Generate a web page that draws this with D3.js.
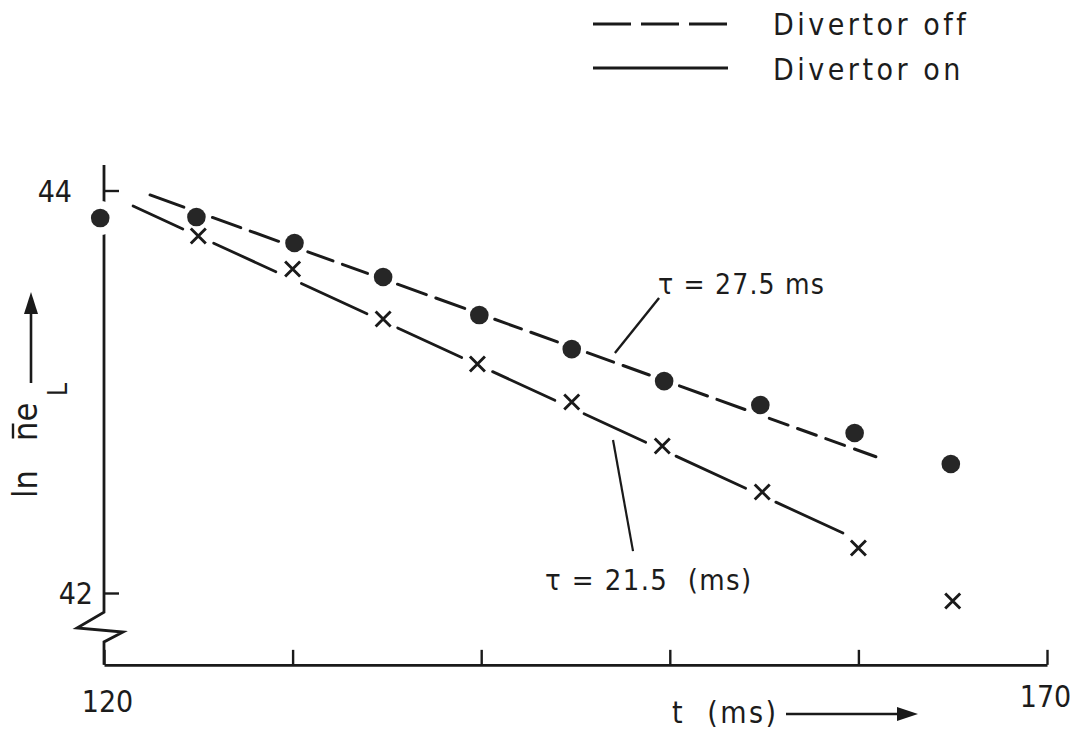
<!DOCTYPE html>
<html>
<head>
<meta charset="utf-8">
<script src="https://cdn.jsdelivr.net/npm/d3@7"></script>
<style>
  html, body { margin: 0; padding: 0; background: #fff; }
  svg { display: block; }
  text { font-family: 'DejaVu Sans Condensed', 'DejaVu Sans', sans-serif; font-stretch: condensed; fill: #1c1c1c; }
</style>
</head>
<body>
<svg id="chart" width="1076" height="731"></svg>
<script>
// Measured decay of line density: time (ms) and ln of line-averaged density
const tOff  = [119.8, 124.9, 130.1, 134.8, 139.9, 144.8, 149.7, 154.8, 159.8, 164.9];
const lnOff = [43.863, 43.868, 43.739, 43.570, 43.381, 43.212, 43.053, 42.934, 42.795, 42.641];
const tOn   = [125, 130, 134.8, 139.8, 144.8, 149.6, 154.9, 160, 165];
const lnOn  = [43.774, 43.610, 43.361, 43.138, 42.949, 42.730, 42.502, 42.224, 41.960];

// Straight-line fits (end points) for each case
const fitOffT = [122.44, 160.93];
const fitOffV = [43.978, 42.677];
const fitOnT  = [121.54, 159.18];
const fitOnV  = [43.923, 42.298];

// Axis ticks and labels
const xTicks = [120, 130, 140, 150, 160, 170];
const xTickLabels = ["120", "", "", "", "", "170"];
const yTicks = [44, 42];
const yTickLabels = ["44", "42"];

// Legend entries and annotations
const legendNames = ["Divertor off", "Divertor on"];
const tauLabels = ["\u03c4 = 27.5 ms", "\u03c4 = 21.5  (ms)"];

const INK = "#1a1a1a";
const svg = d3.select("#chart");

const x = d3.scaleLinear().domain([120, 170]).range([104, 1047]);
const y = d3.scaleLinear().domain([42, 44]).range([593, 190.5]);

const yTop = 44.127, yBase = 41.643;

// ---- x axis: ticks point inward, only end labels
const xAxis = d3.axisBottom(x)
  .tickValues(xTicks)
  .tickSize(-15)
  .tickSizeOuter(0)
  .tickPadding(0)
  .tickFormat((d, i) => xTickLabels[i]);
const gx = svg.append("g")
  .attr("transform", `translate(0,${y(yBase)})`)
  .call(xAxis);
gx.select(".domain").attr("stroke", INK).attr("stroke-width", 2.8);
gx.selectAll(".tick line").attr("stroke", INK).attr("stroke-width", 2.4);
gx.selectAll(".tick text")
  .attr("fill", INK)
  .attr("font-size", 30)
  .attr("dy", null)
  .attr("y", (d, i) => i === 0 ? 47 : 42)
  .attr("dx", (d, i) => i === 0 ? 3 : -2);

// ---- y axis with break (zig-zag) near the bottom
const yLinePts = [
  [0, yTop], [0, 41.905], [-27, 41.826], [19, 41.806], [0, 41.757], [0, yBase]
];
svg.append("path")
  .attr("d", d3.line().x(p => x(120) + p[0]).y(p => y(p[1]))(yLinePts))
  .attr("fill", "none").attr("stroke", INK).attr("stroke-width", 2.8)
  .attr("stroke-linejoin", "miter");

const yAxis = d3.axisLeft(y)
  .tickValues(yTicks)
  .tickSize(-15)
  .tickSizeOuter(0)
  .tickPadding(0)
  .tickFormat((d, i) => yTickLabels[i]);
const gy = svg.append("g")
  .attr("transform", `translate(${x(120)},0)`)
  .call(yAxis);
gy.select(".domain").remove();
gy.selectAll(".tick line").attr("stroke", INK).attr("stroke-width", 2.4);
gy.selectAll(".tick text")
  .attr("fill", INK)
  .attr("font-size", 30)
  .attr("dy", "0.36em")
  .attr("x", (d, i) => i === 0 ? -32 : -11);

// ---- fit lines, broken where they pass the markers
function pieces(p0, p1, markers, gapR, dash, gap) {
  const dx = p1[0] - p0[0], dy = p1[1] - p0[1];
  const L = Math.hypot(dx, dy), ux = dx / L, uy = dy / L;
  const cuts = [];
  markers.forEach(([mx, my]) => {
    const s = (mx - p0[0]) * ux + (my - p0[1]) * uy;
    const dist = Math.abs((mx - p0[0]) * uy - (my - p0[1]) * ux);
    if (dist < gapR) {
      const h = Math.sqrt(gapR * gapR - dist * dist);
      cuts.push([s - h, s + h]);
    }
  });
  cuts.sort((a, b) => a[0] - b[0]);
  const spans = [];
  let cur = 0;
  cuts.forEach(([a, b]) => {
    if (a > cur) spans.push([cur, Math.min(a, L)]);
    cur = Math.max(cur, b);
  });
  if (cur < L) spans.push([cur, L]);
  const out = [];
  spans.filter(([a, b]) => b - a > 2).forEach(([a, b]) => {
    const len = b - a;
    if (!dash) { out.push([a, b]); return; }
    const n = Math.max(1, Math.round((len + gap) / (dash + gap)));
    const d = (len - (n - 1) * gap) / n;
    for (let k = 0; k < n; k++) {
      const s0 = a + k * (d + gap);
      out.push([s0, s0 + d]);
    }
  });
  return out.map(([a, b]) => [
    [p0[0] + ux * a, p0[1] + uy * a],
    [p0[0] + ux * b, p0[1] + uy * b]
  ]);
}

const offPts = tOff.map((t, i) => [x(t), y(lnOff[i])]);
const onPts  = tOn.map((t, i) => [x(t), y(lnOn[i])]);

const offSegs = pieces([x(fitOffT[0]), y(fitOffV[0])], [x(fitOffT[1]), y(fitOffV[1])], offPts, 16, 26, 10);
const onSegs  = pieces([x(fitOnT[0]),  y(fitOnV[0])],  [x(fitOnT[1]),  y(fitOnV[1])],  onPts, 17, 0, 0);

svg.append("g").selectAll("line").data(offSegs).join("line")
  .attr("x1", s => s[0][0]).attr("y1", s => s[0][1])
  .attr("x2", s => s[1][0]).attr("y2", s => s[1][1])
  .attr("stroke", INK).attr("stroke-width", 3).attr("stroke-linecap", "round");
svg.append("g").selectAll("line").data(onSegs).join("line")
  .attr("x1", s => s[0][0]).attr("y1", s => s[0][1])
  .attr("x2", s => s[1][0]).attr("y2", s => s[1][1])
  .attr("stroke", INK).attr("stroke-width", 2.8).attr("stroke-linecap", "round");

// white clearance round the first point where it sits on the y axis
svg.append("circle")
  .attr("cx", offPts[0][0]).attr("cy", offPts[0][1]).attr("r", 17).attr("fill", "#fff");

// ---- markers
svg.append("g").selectAll("circle").data(offPts).join("circle")
  .attr("cx", p => p[0]).attr("cy", p => p[1])
  .attr("r", 9.3).attr("fill", "#262626");

const cs = 7.5;
svg.append("g").selectAll("path").data(onPts).join("path")
  .attr("d", ([cx, cy]) => `M${cx - cs},${cy - cs}L${cx + cs},${cy + cs}M${cx - cs},${cy + cs}L${cx + cs},${cy - cs}`)
  .attr("stroke", INK).attr("stroke-width", 2.9).attr("fill", "none");

// ---- decay-time annotations with leader lines
svg.append("line")
  .attr("x1", x(147.09)).attr("y1", y(43.193))
  .attr("x2", x(149.43)).attr("y2", y(43.466))
  .attr("stroke", INK).attr("stroke-width", 2.4);
svg.append("text")
  .attr("x", x(149.37)).attr("y", y(43.486))
  .attr("font-size", 28).attr("letter-spacing", 1.2)
  .text(tauLabels[0]);

svg.append("line")
  .attr("x1", x(146.99)).attr("y1", y(42.760))
  .attr("x2", x(148.05)).attr("y2", y(42.208))
  .attr("stroke", INK).attr("stroke-width", 2.2);
svg.append("text")
  .attr("x", x(143.38)).attr("y", y(42.015))
  .attr("font-size", 29).attr("letter-spacing", 1.4)
  .style("white-space", "pre")
  .text(tauLabels[1]);

// ---- legend
const leg = svg.append("g");
leg.append("line").attr("x1", 593).attr("x2", 727).attr("y1", 24).attr("y2", 24)
  .attr("stroke", INK).attr("stroke-width", 3.2).attr("stroke-dasharray", "38,10");
leg.append("line").attr("x1", 593).attr("x2", 728).attr("y1", 68).attr("y2", 68)
  .attr("stroke", INK).attr("stroke-width", 3.2);
leg.selectAll("text").data(legendNames).join("text")
  .attr("x", 773).attr("y", (d, i) => i === 0 ? 35 : 80)
  .attr("font-size", 30).attr("letter-spacing", 3.5)
  .text(d => d);

// ---- x axis title with arrow
svg.append("text")
  .attr("x", 672).attr("y", 723)
  .attr("font-size", 30).attr("letter-spacing", 2.5)
  .style("white-space", "pre")
  .text("t  (ms)");
svg.append("line").attr("x1", 786).attr("x2", 900).attr("y1", 714).attr("y2", 714)
  .attr("stroke", INK).attr("stroke-width", 2.6);
svg.append("path").attr("d", "M918,714L897,707L897,721Z").attr("fill", INK);

// ---- y axis title (rotated): ln n-bar e, subscript L, and arrow
svg.append("text")
  .attr("transform", "translate(37,498) rotate(-90)")
  .attr("font-size", 34)
  .text("ln");
const ne = svg.append("g").attr("transform", "translate(37,441) rotate(-90)");
ne.append("text").attr("font-size", 34).text("ne");
ne.append("line").attr("x1", 2.5).attr("x2", 17.5).attr("y1", -24).attr("y2", -24)
  .attr("stroke", INK).attr("stroke-width", 2.4);
svg.append("text")
  .attr("transform", "translate(67,396) rotate(-90)")
  .attr("font-size", 26)
  .text("L");
svg.append("line").attr("x1", 31).attr("x2", 31).attr("y1", 383).attr("y2", 308)
  .attr("stroke", INK).attr("stroke-width", 2.6);
svg.append("path").attr("d", "M31,292L24,314L38,314Z").attr("fill", INK);
</script>
</body>
</html>
